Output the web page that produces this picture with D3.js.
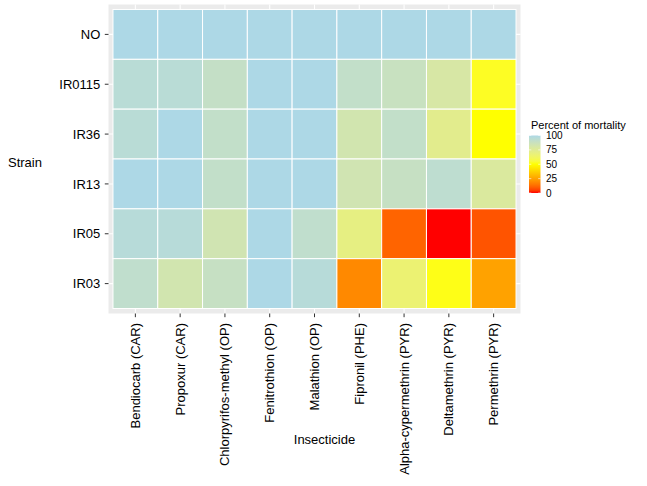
<!DOCTYPE html>
<html><head><meta charset="utf-8">
<script src="https://cdn.jsdelivr.net/npm/d3@7"></script>
<style>body{margin:0;background:#fff}text{font-family:"Liberation Sans",Arial,sans-serif}</style>
</head><body><svg id="c" width="647" height="486"></svg>
<script>
const insecticides = ["Bendiocarb (CAR)","Propoxur (CAR)","Chlorpyrifos-methyl (OP)","Fenitrothion (OP)","Malathion (OP)","Fipronil (PHE)","Alpha-cypermethrin (PYR)","Deltamethrin (PYR)","Permethrin (PYR)"];
const strains = ["NO","IR0115","IR36","IR13","IR05","IR03"];
const mortNO     = [100,100,100,100,100,100,100,100,100];
const mortIR0115 = [95,95,90,100,100,91,88,80,52];
const mortIR36   = [95,100,91,100,100,83,91,73,50];
const mortIR13   = [100,100,91,100,100,84,89,93,78];
const mortIR05   = [96,96,84,100,92,70,11,0,8];
const mortIR03   = [92,83,89,100,96,19,66,51,25];
const legendTicks = [0,25,50,75,100];
const rowsData = [mortNO,mortIR0115,mortIR36,mortIR13,mortIR05,mortIR03];

const svg = d3.select("#c");
const P = {l:108.5, r:520.5, t:4.5, b:313.5};
const x = d3.scaleBand().domain(insecticides).range([P.l,P.r]).paddingInner(0).paddingOuter(0.1);
const y = d3.scaleBand().domain(strains).range([P.t,P.b]).paddingInner(0).paddingOuter(0.1);
const color = d3.scaleLinear().domain([0,50,100]).range(["red","yellow","lightblue"]).interpolate(d3.interpolateLab);

svg.append("rect").attr("x",P.l).attr("y",P.t).attr("width",P.r-P.l).attr("height",P.b-P.t).attr("fill","#ebebeb");
const g = svg.append("g");
insecticides.forEach(d=>{ g.append("line").attr("x1",x(d)+x.bandwidth()/2).attr("x2",x(d)+x.bandwidth()/2).attr("y1",P.t).attr("y2",P.b).attr("stroke","#fff").attr("stroke-width",1.07); });
strains.forEach(d=>{ g.append("line").attr("y1",y(d)+y.bandwidth()/2).attr("y2",y(d)+y.bandwidth()/2).attr("x1",P.l).attr("x2",P.r).attr("stroke","#fff").attr("stroke-width",1.07); });

const cells = [];
strains.forEach((s,i)=>insecticides.forEach((c,j)=>cells.push({s,c,v:rowsData[i][j]})));
svg.append("g").selectAll("rect").data(cells).join("rect")
  .attr("x",d=>x(d.c)).attr("y",d=>y(d.s)).attr("width",x.bandwidth()).attr("height",y.bandwidth())
  .attr("fill",d=>color(d.v)).attr("stroke","#fff").attr("stroke-width",1);

// axes
const xa = svg.append("g").attr("transform",`translate(0,${P.b})`).call(d3.axisBottom(x).tickSize(3.7).tickPadding(0));
xa.select(".domain").remove();
xa.selectAll("line").attr("stroke","#333");
xa.selectAll("text").attr("transform","rotate(-90)").attr("x",-9.5).attr("y",0).attr("dy","0.35em")
  .attr("text-anchor","end").attr("font-size",13).attr("fill","#000");
const ya = svg.append("g").attr("transform",`translate(${P.l},0)`).call(d3.axisLeft(y).tickSize(3.7).tickPadding(4.5));
ya.select(".domain").remove();
ya.selectAll("line").attr("stroke","#333");
ya.selectAll("text").attr("font-size",13).attr("fill","#000").attr("dy","0.36em");

svg.append("text").attr("x",324.5).attr("y",444).attr("text-anchor","middle").attr("font-size",13).text("Insecticide");
svg.append("text").attr("x",8).attr("y",166.5).attr("font-size",13).text("Strain");

// legend
const lg = svg.append("g");
lg.append("text").attr("x",531).attr("y",128.5).attr("font-size",11).text("Percent of mortality");
const ly = d3.scaleLinear().domain([0,100]).range([193,135.5]);
const defs = svg.append("defs");
const grad = defs.append("linearGradient").attr("id","lgd").attr("x1",0).attr("x2",0).attr("y1",1).attr("y2",0);
d3.range(0,101,5).forEach(v=>grad.append("stop").attr("offset",v/100).attr("stop-color",color(v)));
lg.append("rect").attr("x",529).attr("y",ly(100)).attr("width",11.5).attr("height",ly(0)-ly(100)).attr("fill","url(#lgd)");
legendTicks.forEach(v=>{
  lg.append("line").attr("x1",529).attr("x2",531.3).attr("y1",ly(v)).attr("y2",ly(v)).attr("stroke","#fff").attr("stroke-width",0.6);
  lg.append("line").attr("x1",538.2).attr("x2",540.5).attr("y1",ly(v)).attr("y2",ly(v)).attr("stroke","#fff").attr("stroke-width",0.6);
  lg.append("text").attr("x",546).attr("y",ly(v)).attr("dy","0.35em").attr("font-size",10).attr("fill","#000").text(v);
});
</script></body></html>
